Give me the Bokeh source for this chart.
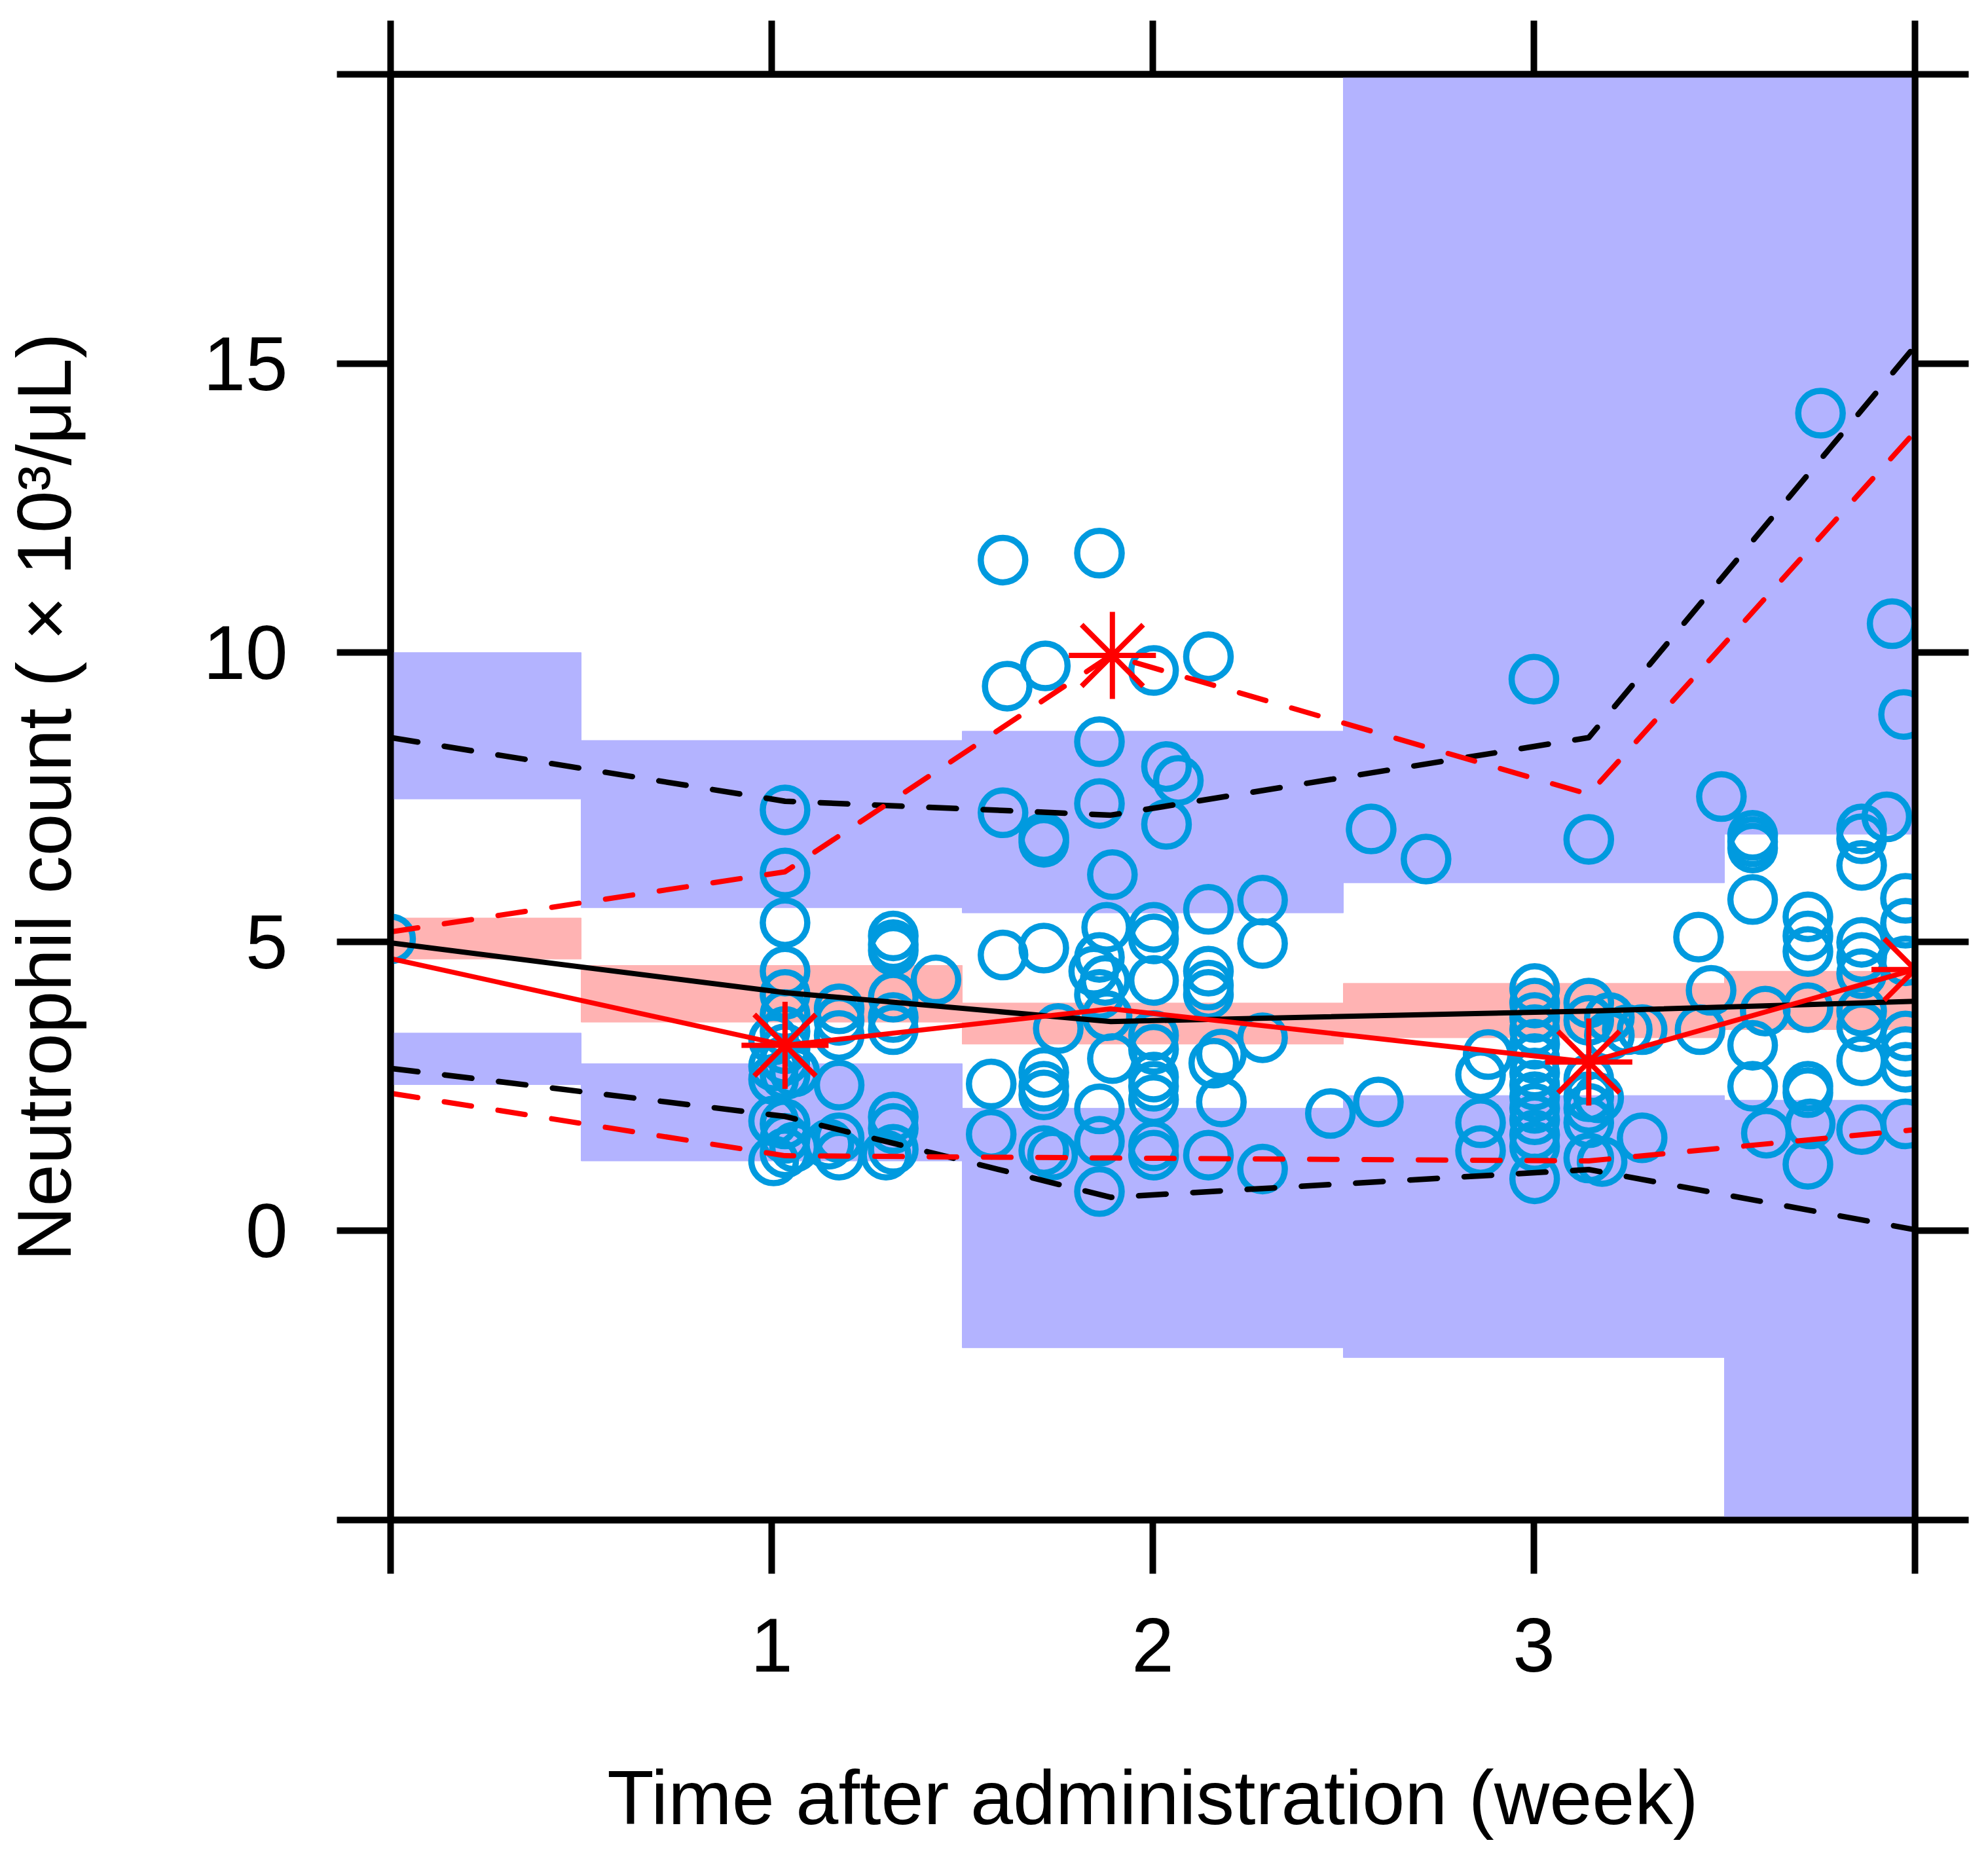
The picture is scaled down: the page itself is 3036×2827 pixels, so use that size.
from bokeh.plotting import figure
from bokeh.models import Range1d, FixedTicker, LinearAxis
from bokeh.embed import file_html
from bokeh.resources import INLINE

FONT = "Liberation Sans"

# ---------------- data ----------------
# observed neutrophil counts (x = week, y = 10^3/uL)
obs_time = [0.0,
            1.035, 1.035, 1.035, 1.035, 1.035, 1.035, 1.035, 1.035, 1.035, 1.035, 1.035, 1.035, 1.035,
            1.005, 1.005, 1.005, 1.005, 1.005, 1.06, 1.06,
            1.177, 1.177, 1.177, 1.177, 1.177, 1.177, 1.15,
            1.319, 1.319, 1.319, 1.319, 1.319, 1.319, 1.319, 1.319, 1.319, 1.30,
            1.431,
            1.607, 1.86, 1.618, 1.718, 2.002, 2.146, 1.86, 2.036, 2.067, 1.607, 1.86, 1.714, 1.714,
            2.036, 1.894, 2.573, 2.717, 2.146, 2.288, 2.288, 1.607, 1.714, 1.879, 2.002, 2.002,
            2.002, 2.146, 2.146, 2.146, 1.86, 1.845, 1.875, 1.86, 1.752, 1.894, 1.88, 2.002, 2.002,
            2.002, 2.002, 2.002, 2.18, 2.16, 2.288, 2.18, 1.576, 1.714, 1.714, 1.714, 1.576, 1.714,
            1.737, 1.86, 1.86, 1.86, 2.002, 2.002, 2.146, 2.288, 2.466, 2.592,
            2.86, 2.88, 2.86, 2.86, 3.0, 3.144,
            3.002, 3.002, 3.002, 3.002, 3.002, 3.002, 3.002, 3.002, 3.002, 3.002, 3.002, 3.002,
            3.002, 3.002,
            3.144, 3.144, 3.144, 3.144, 3.144, 3.144, 3.144,
            3.198, 3.198, 3.245, 3.284, 3.284, 3.179, 3.17,
            3.492, 3.574, 3.574, 3.574, 3.574, 3.432, 3.465, 3.436, 3.574, 3.574, 3.607, 3.61,
            3.719, 3.719, 3.719, 3.719, 3.719, 3.719, 3.725, 3.719,
            3.86, 3.86, 3.86, 3.926, 3.86, 3.86, 3.86, 3.86, 3.86, 3.86, 3.86,
            3.975, 3.975, 3.975, 3.975, 3.975, 3.975, 3.975,
            3.752, 3.94, 3.97]
obs_count = [5.05,
             7.28, 6.19, 5.33, 4.49, 4.09, 3.74, 3.45, 3.15, 2.95, 2.7, 1.85, 1.6, 1.35,
             3.3, 2.62, 1.9, 1.21, 2.85, 1.45, 2.75,
             3.84, 3.64, 3.38, 2.52, 1.61, 1.31, 1.5,
             5.1, 4.95, 4.85, 4.04, 3.69, 3.48, 1.97, 1.77, 1.41, 1.31,
             4.34,
             11.6, 11.72, 9.42, 9.77, 9.69, 9.93, 8.46, 8.03, 7.79, 7.23, 7.39, 6.8, 6.72,
             7.03, 6.16, 6.95, 6.43, 5.56, 5.72, 4.97, 4.77, 4.89, 5.25, 5.25, 5.05,
             4.33, 4.49, 4.25, 4.09, 4.73, 4.49, 4.33, 4.09, 3.5, 2.98, 3.72, 3.38, 3.14,
             2.66, 2.5, 2.27, 3.06, 2.9, 3.34, 2.23, 2.54, 2.74, 2.5, 2.35, 1.67, 1.39,
             1.31, 2.11, 1.55, 0.68, 1.47, 1.31, 1.31, 1.07, 2.03, 2.23,
             2.7, 3.05, 1.87, 1.39, 9.54, 6.77,
             4.19, 3.94, 3.69, 3.48, 3.23, 2.98, 2.73, 2.52, 2.32, 2.12, 1.92, 1.66,
             1.46, 0.9,
             3.94, 3.64, 2.62, 2.32, 2.12, 1.87, 1.26,
             3.69, 3.38, 3.48, 3.48, 1.61, 1.2, 2.3,
             7.51, 6.84, 6.73, 6.62, 5.73, 5.08, 4.16, 3.48, 3.21, 2.5, 3.8, 1.69,
             5.43, 5.1, 4.83, 3.86, 2.5, 2.39, 1.85, 1.15,
             6.95, 6.78, 6.32, 7.16, 4.99, 4.73, 4.45, 3.8, 3.53, 2.94, 1.75,
             5.75, 5.32, 4.67, 3.37, 3.1, 2.83, 1.85,
             14.14, 10.5, 8.93]

# time bins and simulated prediction intervals (5th, 50th, 95th percentile bands)
bin_left = [0.0, 0.5, 1.5, 2.5, 3.5]
bin_right = [0.5, 1.5, 2.5, 3.5, 4.0]
p95_band_top = [10.0, 8.48, 8.64, 20.0, 20.0]
p95_band_bot = [7.47, 5.59, 5.50, 6.02, 6.86]
p50_band_top = [5.41, 4.59, 3.94, 4.28, 4.49]
p50_band_bot = [4.70, 3.61, 3.23, 3.34, 3.48]
p05_band_top = [3.42, 2.89, 2.12, 2.34, 2.26]
p05_band_bot = [2.53, 1.21, -2.02, -2.19, -5.0]

# percentile lines at the median time of each bin
bin_time = [0.0, 1.035, 1.89, 3.144, 4.0]
obs_p50 = [4.71, 3.21, 3.84, 2.92, 4.52]
obs_p95 = [5.17, 6.21, 9.95, 7.55, 13.82]
obs_p05 = [2.38, 1.30, 1.26, 1.21, 1.75]
pred_p50 = [4.98, 4.12, 3.62, 3.80, 3.97]
pred_p95 = [8.53, 7.43, 7.19, 8.53, 15.3]
pred_p05 = [2.81, 1.98, 0.58, 1.06, 0.02]

# observed percentiles falling outside the predicted band
out_time = [1.035, 1.894, 3.144, 4.0]
out_value = [3.21, 9.95, 2.92, 4.52]

# ---------------- figure ----------------
p = figure(frame_width=2328, frame_height=2208,
           x_range=Range1d(0, 4), y_range=Range1d(-5, 20),
           min_border_left=593, min_border_right=96,
           min_border_top=113, min_border_bottom=440,
           output_backend="svg", toolbar_location=None,
           background_fill_color="white", border_fill_color="white")
p.xgrid.visible = False
p.ygrid.visible = False
p.outline_line_color = "black"
p.outline_line_width = 10

# bands
blue_band = "#B3B3FF"
pink_band = "#FFB3B3"
p.quad(left=bin_left, right=bin_right, top=p95_band_top, bottom=p95_band_bot,
       fill_color=blue_band, line_color=blue_band, line_width=1)
p.quad(left=bin_left, right=bin_right, top=p05_band_top, bottom=p05_band_bot,
       fill_color=blue_band, line_color=blue_band, line_width=1)
p.quad(left=bin_left, right=bin_right, top=p50_band_top, bottom=p50_band_bot,
       fill_color=pink_band, line_color=pink_band, line_width=1)

# observations
p.scatter(obs_time, obs_count, marker="circle", size=68, fill_color=None,
          line_color="#009ADF", line_width=9.5)

# percentile lines
dash = "42 41"
p.line(bin_time, pred_p50, line_color="black", line_width=8, line_join="round")
p.line(bin_time, pred_p95, line_color="black", line_width=8.5, line_dash=dash,
       line_cap="round", line_join="round")
p.line(bin_time, pred_p05, line_color="black", line_width=8.5, line_dash=dash,
       line_cap="round", line_join="round")
p.line(bin_time, obs_p50, line_color="red", line_width=7.5, line_join="round")
p.line(bin_time, obs_p95, line_color="red", line_width=8, line_dash=dash,
       line_cap="round", line_join="round")
p.line(bin_time, obs_p05, line_color="red", line_width=8, line_dash=dash,
       line_cap="round", line_join="round")

p.scatter(out_time, out_value, marker="asterisk", size=133, line_color="red", line_width=8)


def style_axis(ax, ticks, labels, font_size):
    ax.ticker = FixedTicker(ticks=ticks, minor_ticks=[])
    ax.major_label_overrides = labels
    ax.axis_line_width = 10
    ax.axis_line_color = "black"
    ax.major_tick_line_width = 10
    ax.major_tick_out = 82
    ax.major_tick_in = 0
    ax.minor_tick_line_color = None
    ax.major_label_text_font = FONT
    ax.major_label_text_font_size = font_size
    ax.major_label_text_color = "black"
    ax.axis_label_text_font = FONT
    ax.axis_label_text_font_style = "normal"
    ax.axis_label_text_color = "black"


x_ticks = [0, 1, 2, 3, 4]
y_ticks = [-5, 0, 5, 10, 15, 20]
x_labels = {0: "", 1: "1", 2: "2", 3: "3", 4: ""}
y_labels = {-5: "", 0: "0", 5: "5", 10: "10", 15: "15", 20: ""}
blank_x = {t: "" for t in x_ticks}
blank_y = {t: "" for t in y_ticks}

style_axis(p.xaxis[0], x_ticks, x_labels, "116px")
p.xaxis[0].axis_label = "Time after administration (week)"
p.xaxis[0].axis_label_text_font_size = "117px"
p.xaxis[0].major_label_standoff = 68
p.xaxis[0].axis_label_standoff = 124

style_axis(p.yaxis[0], y_ticks, y_labels, "116px")
p.yaxis[0].axis_label = "Neutrophil count ( \u00d7 10\u00b3/\u03bcL)"
p.yaxis[0].axis_label_text_font_size = "116px"
p.yaxis[0].major_label_standoff = 75
p.yaxis[0].axis_label_standoff = 174

top_axis = LinearAxis()
style_axis(top_axis, x_ticks, blank_x, "1px")
top_axis.major_label_standoff = 0
p.add_layout(top_axis, "above")

right_axis = LinearAxis()
style_axis(right_axis, y_ticks, blank_y, "1px")
right_axis.major_label_standoff = 0
p.add_layout(right_axis, "right")

open("out.html", "w").write(file_html(p, INLINE))
